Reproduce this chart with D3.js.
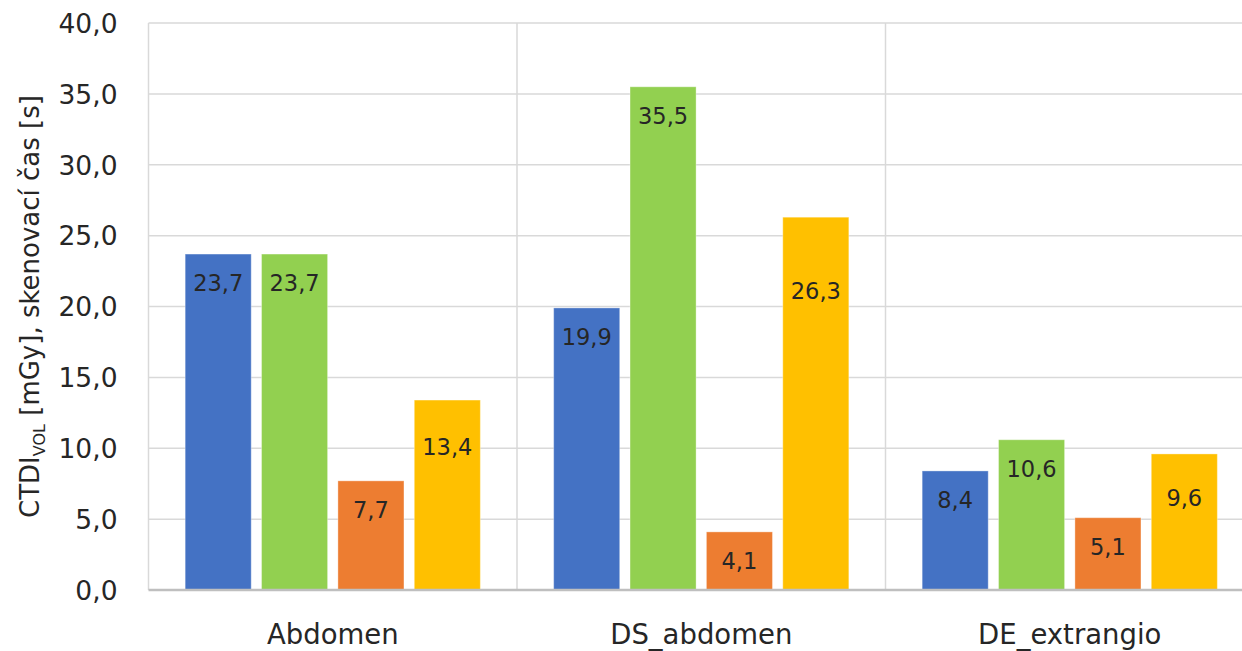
<!DOCTYPE html>
<html>
<head>
<meta charset="utf-8">
<script src="https://cdn.jsdelivr.net/npm/d3@7"></script>
<style>
  html, body { margin: 0; padding: 0; background: #fff; }
  svg { display: block; }
  text { font-family: "DejaVu Sans", "Noto Sans", sans-serif; fill: #262626; }
</style>
</head>
<body>
<svg id="chart" width="1242" height="651"></svg>
<script>
// Study types (x categories)
const categories = ["Abdomen", "DS_abdomen", "DE_extrangio"];
// Four measured series per study type
const seriesNames = ["s1", "s2", "s3", "s4"];
const seriesColors = ["#4472C4", "#92D050", "#ED7D31", "#FFC000"];
const values1 = [23.7, 19.9, 8.4];
const values2 = [23.7, 35.5, 10.6];
const values3 = [7.7, 4.1, 5.1];
const values4 = [13.4, 26.3, 9.6];
const yTicks = [0, 5, 10, 15, 20, 25, 30, 35, 40];

const allSeries = [values1, values2, values3, values4];

const svg = d3.select("#chart");
const plot = { left: 148.5, right: 1254, top: 23, bottom: 590 };

const x0 = d3.scaleBand().domain(categories).range([plot.left, plot.right]).padding(0);
const x1 = d3.scaleBand().domain(seriesNames).range([0, x0.bandwidth()])
  .paddingInner(0.135).paddingOuter(0.48);
const y = d3.scaleLinear().domain([0, 40]).range([plot.bottom, plot.top]);

const fmt = v => d3.format(".1f")(v).replace(".", ",");

// horizontal gridlines
svg.append("g").selectAll("line").data(yTicks.filter(t => t > 0)).join("line")
  .attr("x1", plot.left).attr("x2", plot.right)
  .attr("y1", d => y(d)).attr("y2", d => y(d))
  .attr("stroke", "#d9d9d9").attr("stroke-width", 1.5);

// vertical category separators
svg.append("g").selectAll("line").data(categories).join("line")
  .attr("x1", d => x0(d)).attr("x2", d => x0(d))
  .attr("y1", plot.top).attr("y2", plot.bottom)
  .attr("stroke", "#d9d9d9").attr("stroke-width", 1.5);

// y axis tick labels
const yAxis = d3.axisLeft(y).tickValues(yTicks).tickFormat(fmt).tickSize(0).tickPadding(0);
const gy = svg.append("g").attr("transform", `translate(${plot.left - 31},0)`).call(yAxis);
gy.select(".domain").remove();
gy.selectAll("text").attr("font-size", 26.5).attr("fill", "#262626")
  .style("font-family", "'DejaVu Sans', sans-serif").attr("dy", "0.35em");

// bars
const groups = svg.append("g").selectAll("g").data(categories).join("g")
  .attr("transform", d => `translate(${x0(d)},0)`);

const cells = (c, ci) => seriesNames.map((s, si) => ({ s, si, ci, v: allSeries[si][ci] }));

groups.selectAll("rect").data(cells).join("rect")
  .attr("x", d => x1(d.s))
  .attr("width", x1.bandwidth())
  .attr("y", d => y(d.v))
  .attr("height", d => y(0) - y(d.v))
  .attr("fill", d => seriesColors[d.si])
  .attr("stroke", "rgba(255,255,255,0.35)")
  .attr("stroke-width", 1);

// value labels sit inside the bar end; the fourth series' labels were moved lower
const labelDrop = (si, ci) => si === 3 ? [47, 74, 44][ci] : 29;

groups.selectAll("text.val").data(cells).join("text")
  .attr("class", "val")
  .attr("x", d => x1(d.s) + x1.bandwidth() / 2)
  .attr("y", d => y(d.v) + labelDrop(d.si, d.ci))
  .attr("dy", "0.35em")
  .attr("text-anchor", "middle")
  .attr("font-size", 22.5)
  .attr("fill", "#1a1a1a")
  .text(d => fmt(d.v));

// baseline
svg.append("line")
  .attr("x1", plot.left).attr("x2", plot.right)
  .attr("y1", y(0)).attr("y2", y(0))
  .attr("stroke", "#bfbfbf").attr("stroke-width", 2.5);

// category labels
const xAxis = d3.axisBottom(x0).tickSize(0).tickPadding(0);
const gx = svg.append("g").attr("transform", `translate(0,${plot.bottom + 44})`).call(xAxis);
gx.select(".domain").remove();
gx.selectAll("text").attr("font-size", 27.5).attr("fill", "#262626")
  .style("font-family", "'DejaVu Sans', sans-serif").attr("dy", "0.35em");

// y axis title with subscript
const title = svg.append("text")
  .attr("transform", `translate(30,${(plot.top + plot.bottom) / 2}) rotate(-90)`)
  .attr("text-anchor", "middle")
  .attr("dy", "0.35em")
  .attr("font-size", 26)
  .attr("fill", "#262626");
title.append("tspan").text("CTDI");
title.append("tspan").attr("font-size", 16).attr("dy", 6).text("VOL");
title.append("tspan").attr("dy", -6).text(" [mGy], skenovací čas [s]");
</script>
</body>
</html>
